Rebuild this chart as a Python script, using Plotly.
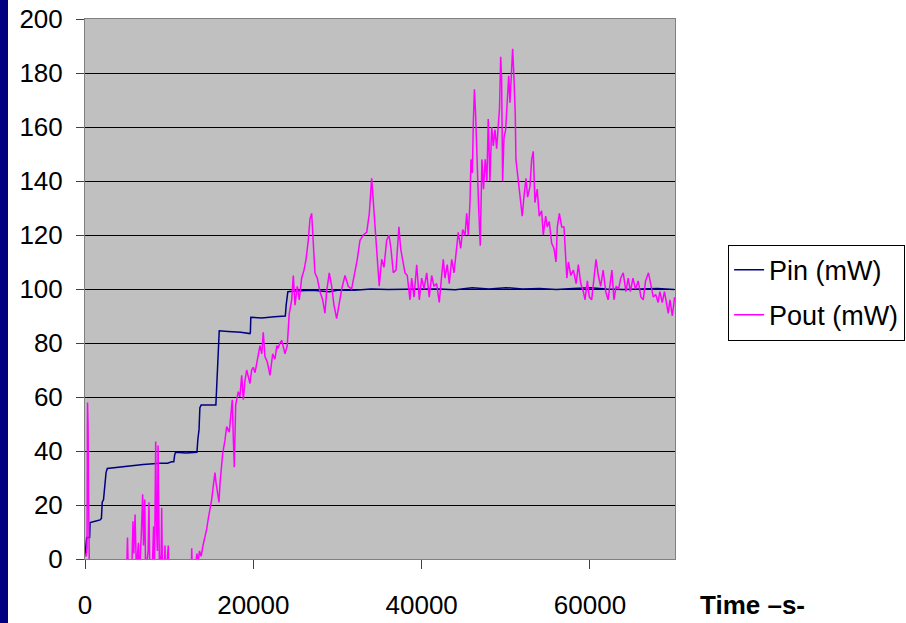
import plotly.graph_objects as go

# ---- data ----
pin_t = [0, 100, 200, 550, 600, 1200, 1800, 1950, 2050, 2200, 2350, 2500, 2650, 3500, 4200, 5100,
         6900, 8900, 9800, 10300, 10550, 10650, 10750, 12000, 13300, 13400, 13550, 13650, 13800,
         15550, 15650, 15800, 15950, 17000, 18500, 19600, 19650, 19700, 21000, 22500, 23800, 23900,
         24100, 25000, 27000, 29000, 30000, 32000, 34000, 36000, 38000, 40000, 42000, 44000, 46000,
         48000, 50000, 52000, 54000, 56000, 58000, 60000, 62000, 64000, 66000, 68000, 70000]
pin_v = [1, 7, 8, 8, 13.5, 14, 14.5, 15, 21, 22, 29, 32, 33.5, 33.8, 34, 34.5,
         35, 35.5, 35.5, 36, 36, 38.5, 39.5, 39.3, 39.5, 44, 48, 56, 57,
         57, 63, 75, 84.5, 84.3, 84, 83.5, 84, 89.5, 89.3, 89.7, 90, 94,
         99, 99.3, 99.5, 99, 99.5, 99.5, 100, 99.8, 100, 100, 100, 99.7, 100.5,
         100, 100.5, 100, 100.2, 99.8, 100.2, 100.5, 100, 99.8, 100, 100.2, 99.8]

pout_t = [0, 120, 240, 300, 360, 420, 480, 540, 4900, 5050, 5150, 5550, 5700, 5800, 5950, 6100,
          6350, 6450, 6700, 6850, 6950, 7100, 7200, 7500, 7600, 7700, 8000, 8150, 8250, 8400,
          8500, 8600, 8680, 8780, 8850, 9050, 9110, 9200, 9450, 9500, 9580, 9900, 9980, 12600,
          12680, 12750, 13100, 13300, 13450, 13600, 13800, 14020, 14250, 14450, 14650, 14850,
          15050, 15240, 15440, 15580, 15720, 15920, 16040, 16200, 16360, 16630, 16830, 17140,
          17310, 17500, 17620, 17740, 17900, 18210, 18400, 18620, 18810, 19000, 19210, 19400,
          19600, 19800, 19990, 20200, 20470, 20790, 21000, 21180, 21380, 21660, 21980, 22300,
          22570, 22800, 22960, 23150, 23370, 23560, 23760, 24030, 24270, 24560, 24750, 24950,
          25220, 25460, 25740, 26020, 26260, 26530, 26730, 26930, 27120, 27320, 27600, 27920,
          28240, 28510, 28710, 29020, 29310, 29580, 29900, 30210, 30500, 30890, 31280, 31680,
          32080, 32350, 32670, 33060, 33470, 33780, 34060, 34250, 34540, 34770, 34960, 35250,
          35520, 35840, 36120, 36350, 36630, 36950, 37300, 37500, 37740, 38020, 38290, 38610,
          38810, 39090, 39410, 39720, 40000, 40280, 40600, 40900, 41190, 41460, 41780, 42090,
          42380, 42570, 42770, 43040, 43280, 43570, 43840, 44160, 44350, 44640, 44870, 45150,
          45350, 45540, 45740, 45860, 46020, 46140, 46270, 46420, 46560, 46760, 46960, 47160,
          47350, 47550, 47750, 47910, 48110, 48320, 48510, 48710, 48910, 49130, 49250, 49390,
          49500, 49620, 49780, 49980, 50170, 50340, 50490, 50640, 50810, 50970, 51120, 51200,
          51400, 51560, 51760, 51950, 52150, 52390, 52590, 52870, 53070, 53260, 53460, 53730,
          53970, 54250, 54450, 54730, 54920, 55160, 55440, 55720, 55960, 56120, 56360, 56640,
          56910, 57080, 57250, 57440, 57720, 58030, 58350, 58620, 58900, 59210, 59410, 59690,
          59920, 60200, 60400, 60710, 60990, 61270, 61560, 61870, 62150, 62440, 62600, 62850,
          63100, 63400, 63650, 63950, 64270, 64540, 64800, 65100, 65400, 65730, 66050, 66330,
          66600, 66950, 67200, 67520, 67800, 68100, 68300, 68580, 68850, 69100, 69300, 69500,
          69780, 69900, 70050]
pout_v = [2, 1, 4, 58, 50, 25, 0, -10, -10, 8, -5, -6, 14, 2, 16.5, -4,
          6, -8, 10, 24, 5, 22, -5, 3, 21, -6, -3, 12, -5, 43.5,
          12, 3, 42, 8, -5, 2, 19, -5, -2, 5, -8, 5, -10, -10,
          4, -5, -3, 2, -1, 3, 1, 5, 8, 11, 15, 18,
          22, 27, 32, 28, 25, 21, 28, 33, 39, 44, 49, 47,
          54, 59, 45, 34, 57, 62, 60, 68, 59, 66, 70, 68,
          65, 70, 71, 69, 73, 79, 76, 84, 75, 73, 68, 76,
          74, 79, 78, 80, 81, 79, 76, 79, 91, 96, 105, 94,
          101, 96, 104, 107, 111, 118, 126, 128, 117, 106, 104, 99,
          96, 91, 99, 106, 101, 94, 89, 95, 100, 105, 101, 100,
          106, 111, 118, 120, 121, 128, 141, 132, 118, 111, 101, 111,
          108, 118, 120, 115, 106, 107, 123, 115, 110, 106, 105, 96,
          104, 97, 109, 96, 104, 100, 106, 97, 105, 101, 102, 95,
          105, 111, 104, 109, 102, 111, 106, 115, 121, 115, 122, 120,
          128, 120, 132, 148, 143, 162, 174, 164, 146, 131, 116, 148,
          137, 148, 140, 163, 140, 160, 153, 159, 152, 162, 167, 186,
          178, 140, 156, 159, 171, 179, 169, 180, 189, 178, 165, 148,
          143, 138, 132, 127, 134, 141, 134, 138, 148, 151, 132, 137,
          127, 129, 120, 127, 123, 125, 117, 115, 110, 123, 128, 123,
          123, 112, 104, 110, 105, 107, 102, 109, 102, 99, 96, 103,
          97, 96, 102, 111, 105, 101, 107, 99, 96, 102, 107, 96,
          101, 100, 104, 106, 99, 104, 99, 104, 100, 103, 97, 96,
          103, 106, 102, 97, 98, 95, 99, 95, 99, 94, 91, 96,
          90, 93, 97]

x_ticks = [0, 20000, 40000, 60000]
y_ticks = [0, 20, 40, 60, 80, 100, 120, 140, 160, 180, 200]

FONT = "Liberation Sans, Arial, sans-serif"

fig = go.Figure()
fig.add_trace(go.Scatter(x=pin_t, y=pin_v, mode="lines", name="Pin (mW)",
                         line=dict(color="#000080", width=1.5), legendgroup="a"))
fig.add_trace(go.Scatter(x=pout_t, y=pout_v, mode="lines", name="Pout (mW)",
                         line=dict(color="#FF00FF", width=1.5), legendgroup="b"))

fig.update_layout(
    width=906, height=623,
    margin=dict(l=85, r=231, t=19, b=64, autoexpand=False),
    paper_bgcolor="white",
    plot_bgcolor="#C0C0C0",
    font=dict(family=FONT, size=26, color="black"),
    showlegend=True,
    legend=dict(x=1.09, y=0.582, xanchor="left", yanchor="top",
                bgcolor="white", bordercolor="black", borderwidth=1,
                font=dict(size=27), tracegroupgap=7, itemwidth=30,
                entrywidth=200, traceorder="grouped"),
    xaxis=dict(range=[0, 70100], tickvals=x_ticks, ticktext=[str(v) for v in x_ticks],
               showgrid=False, zeroline=False, showline=True, linecolor="#808080",
               linewidth=1, mirror=True, ticks="outside", ticklen=9, tickcolor="#404040",
               ticklabelstandoff=14, automargin=False),
    yaxis=dict(range=[0, 200], tickvals=y_ticks,
               showgrid=True, gridcolor="black", gridwidth=1, zeroline=False,
               showline=True, linecolor="#808080", linewidth=1, mirror=True,
               ticks="outside", ticklen=8, tickcolor="#404040", ticklabelstandoff=8,
               automargin=False),
    shapes=[dict(type="rect", xref="paper", yref="paper",
                 x0=-0.2, x1=(8 - 85) / 590, y0=-0.2, y1=1.1,
                 fillcolor="#000080", line=dict(width=0), layer="above")],
    annotations=[dict(text="<b>Time –s-</b>", xref="paper", yref="paper",
                      x=(698 - 85) / 590, y=(559 - 605) / 540, xanchor="left",
                      yanchor="middle", showarrow=False,
                      font=dict(size=26, family=FONT, color="black"))],
)

fig.write_html("out.html", config={"displayModeBar": False},
               post_script="document.body.style.margin='0';document.body.style.overflow='hidden';")
